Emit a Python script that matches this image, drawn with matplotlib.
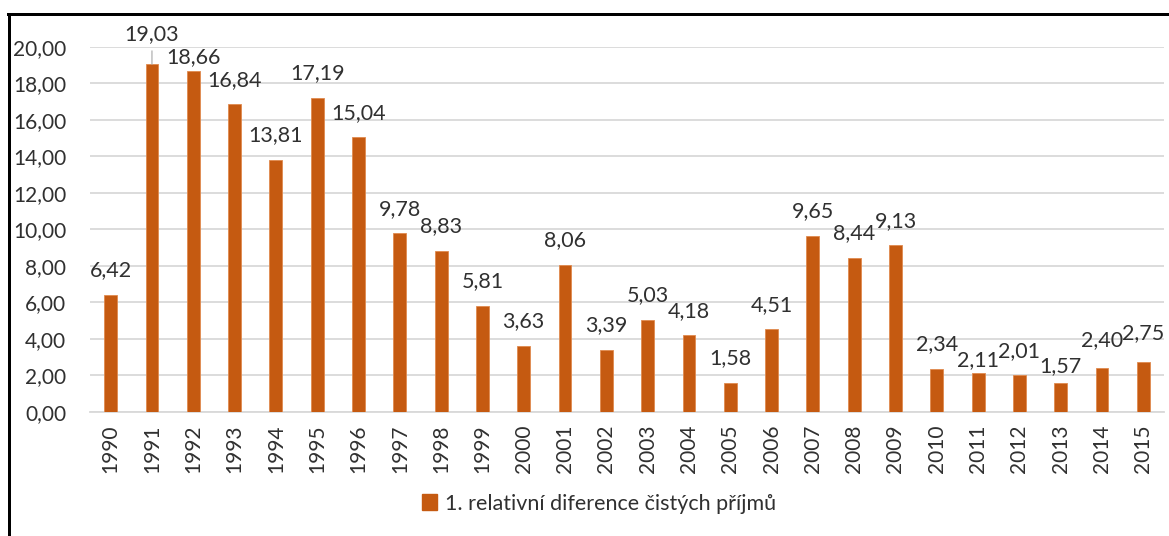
import numpy as np
import matplotlib.pyplot as plt
from matplotlib.patches import Patch
from matplotlib.lines import Line2D

# data
years = [str(y) for y in range(1990, 2016)]
values = [6.42, 19.03, 18.66, 16.84, 13.81, 17.19, 15.04, 9.78, 8.83, 5.81,
          3.63, 8.06, 3.39, 5.03, 4.18, 1.58, 4.51, 9.65, 8.44, 9.13,
          2.34, 2.11, 2.01, 1.57, 2.40, 2.75]
series_name = "1. relativní diference čistých příjmů"

# extra vertical shift (px) of some data labels, as Excel moved them
label_shift = {1: 6, 2: -10, 21: -11, 23: -7, 24: 3, 25: 4.5}

bar_color = "#C55A11"
text_color = "#303030"
grid_color = "#D9D9D9"

plt.rcParams['font.family'] = ['Lato', 'DejaVu Sans']

W, H, DPI = 1169, 536, 100
fig = plt.figure(figsize=(W / DPI, H / DPI), dpi=DPI)
px = 72 / DPI  # points per pixel

ax = fig.add_axes([90 / W, 1 - 411.8 / H, (1164 - 90) / W, (411.8 - 46.7) / H])
x = np.arange(len(years))
ax.bar(x, values, width=0.31, color=bar_color, edgecolor="#E08A4E",
       linewidth=0.6, zorder=3)

ax.set_xlim(-0.5, len(years) - 0.5)
ax.set_ylim(0, 20)
ax.set_yticks(np.arange(0, 21, 2))
ax.set_yticklabels([f"{v:.2f}".replace(".", ",") for v in np.arange(0, 21, 2)])
ax.set_xticks(x)
ax.set_xticklabels(years, rotation=90)
ax.tick_params(axis='y', length=0, pad=17, labelsize=15, labelcolor=text_color)
ax.tick_params(axis='x', length=0, pad=9.5, labelsize=15, labelcolor=text_color)
ax.grid(axis='y', color=grid_color, linewidth=1.3, zorder=0)
ax.set_axisbelow(True)
for s in ['top', 'right', 'left']:
    ax.spines[s].set_visible(False)
ax.spines['bottom'].set_color(grid_color)
ax.spines['bottom'].set_linewidth(1.3)

for i, v in enumerate(values):
    dy = (24.5 + label_shift.get(i, 0)) * px
    txt = f"{v:.2f}".replace(".", ",")
    if i == 1:
        ax.annotate(txt, xy=(i, v), xytext=(0, dy), textcoords='offset points',
                    ha='center', va='center', fontsize=15.5, color=text_color,
                    annotation_clip=False,
                    arrowprops=dict(arrowstyle='-', color='#A6A6A6', lw=0.8,
                                    shrinkA=3, shrinkB=0))
    else:
        ax.annotate(txt, xy=(i, v), xytext=(0, dy), textcoords='offset points',
                    ha='center', va='center', fontsize=15.5, color=text_color,
                    annotation_clip=False)

handle = Patch(facecolor=bar_color, edgecolor=bar_color)
fig.legend([handle], [series_name], loc='center',
           bbox_to_anchor=(599 / W, 1 - 503.5 / H), frameon=False,
           fontsize=15.5, labelcolor=text_color, handlelength=0.7,
           handleheight=0.7, handletextpad=0.4)

# chart frame (only left and top edges are visible in the crop)
fig.add_artist(Line2D([8 / W, 1], [1 - 13.5 / H, 1 - 13.5 / H], color='black',
                      lw=3 * px, transform=fig.transFigure))
fig.add_artist(Line2D([8.5 / W, 8.5 / W], [0, 1 - 13.5 / H], color='black',
                      lw=3 * px, transform=fig.transFigure))

fig.savefig("out.png", dpi=DPI)
